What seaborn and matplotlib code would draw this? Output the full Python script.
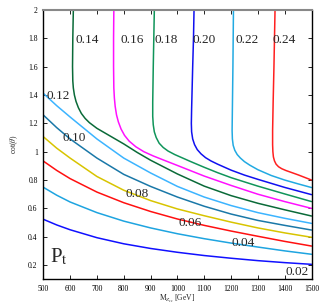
import numpy as np
import pandas as pd
import seaborn as sns
import matplotlib
matplotlib.use('Agg')
import matplotlib.pyplot as plt

# contour levels and their line colours
levels = ['0.02', '0.04', '0.06', '0.08', '0.10', '0.12',
          '0.14', '0.16', '0.18', '0.20', '0.22', '0.24']
colors = ['#1010ff', '#1ea4e0', '#ff1010', '#d8c400', '#1a78a8', '#3cb4ff',
          '#0a6a38', '#ff10ff', '#10955a', '#1010f0', '#22aae2', '#ff2020']

# lower contours, read on a common mass grid (GeV)
m_grid = [500, 550, 600, 700, 800, 900, 1000, 1100, 1200, 1300, 1400, 1500]
c_002 = [0.523, 0.483, 0.449, 0.393, 0.350, 0.317, 0.290, 0.267, 0.248, 0.231, 0.217, 0.205]
c_004 = [0.749, 0.693, 0.645, 0.570, 0.510, 0.462, 0.421, 0.386, 0.355, 0.327, 0.300, 0.276]
c_006 = [0.934, 0.868, 0.810, 0.715, 0.640, 0.578, 0.525, 0.480, 0.440, 0.403, 0.367, 0.334]
c_008 = [1.106, 1.025, 0.955, 0.825, 0.728, 0.655, 0.596, 0.548, 0.503, 0.462, 0.427, 0.396]
c_010 = [1.259, 1.170, 1.090, 0.955, 0.840, 0.755, 0.680, 0.615, 0.560, 0.515, 0.480, 0.447]
c_012 = [1.412, 1.325, 1.245, 1.090, 0.955, 0.850, 0.755, 0.680, 0.620, 0.570, 0.530, 0.494]

# upper contours (vertical branch, then bending to the right)
m_014 = [612, 610, 609, 610, 612, 616, 622, 631, 642, 656, 672, 700, 750, 800, 850, 900,
         1000, 1100, 1200, 1300, 1400, 1500]
c_014 = [2.0, 1.8, 1.6, 1.5, 1.45, 1.40, 1.355, 1.31, 1.27, 1.235, 1.205, 1.165, 1.11, 1.055,
         0.995, 0.94, 0.843, 0.757, 0.69, 0.636, 0.59, 0.546]
m_016 = [763, 762, 762, 763, 765, 768, 773, 780, 790, 803, 820, 845, 875, 910, 950, 1000,
         1100, 1200, 1300, 1400, 1500]
c_016 = [2.0, 1.8, 1.6, 1.45, 1.38, 1.32, 1.26, 1.21, 1.16, 1.115, 1.075, 1.035, 1.0, 0.97,
         0.94, 0.903, 0.828, 0.762, 0.70, 0.648, 0.600]
m_018 = [914, 912, 910, 908, 908, 910, 914, 921, 932, 947, 965, 990, 1020, 1050, 1100, 1150,
         1200, 1300, 1400, 1500]
c_018 = [2.0, 1.8, 1.6, 1.35, 1.25, 1.19, 1.14, 1.10, 1.06, 1.03, 1.005, 0.98, 0.955, 0.93,
         0.89, 0.852, 0.817, 0.757, 0.702, 0.648]
m_020 = [1062, 1060, 1057, 1053, 1052, 1053, 1057, 1064, 1074, 1088, 1105, 1125, 1150, 1200,
         1250, 1300, 1400, 1500]
c_020 = [2.0, 1.8, 1.6, 1.3, 1.2, 1.14, 1.09, 1.05, 1.015, 0.985, 0.958, 0.935, 0.912, 0.87,
         0.835, 0.805, 0.748, 0.697]
m_022 = [1209, 1208, 1207, 1205, 1204, 1205, 1208, 1214, 1223, 1235, 1250, 1270, 1300, 1350,
         1400, 1450, 1500]
c_022 = [2.0, 1.8, 1.6, 1.3, 1.15, 1.09, 1.045, 1.01, 0.98, 0.955, 0.93, 0.905, 0.873, 0.832,
         0.80, 0.773, 0.747]
m_024 = [1364, 1362, 1360, 1357, 1355, 1355, 1356, 1358, 1362, 1368, 1377, 1389, 1405, 1420,
         1451, 1500]
c_024 = [2.0, 1.8, 1.6, 1.35, 1.15, 1.05, 1.0, 0.963, 0.935, 0.912, 0.894, 0.880, 0.867, 0.857,
         0.836, 0.80]

# contour label positions
label_x = [1448, 1246, 1047, 848, 614, 556, 665, 830, 957, 1100, 1261, 1398]
label_y = [0.153, 0.358, 0.499, 0.700, 1.100, 1.392, 1.79, 1.79, 1.79, 1.79, 1.79, 1.79]

x_ticks = [500, 600, 700, 800, 900, 1000, 1100, 1200, 1300, 1400, 1500]
y_ticks = [0.2, 0.4, 0.6, 0.8, 1.0, 1.2, 1.4, 1.6, 1.8, 2.0]
y_ticklabels = ['0.2', '0.4', '0.6', '0.8', '1', '1.2', '1.4', '1.6', '1.8', '2']

curves = [(m_grid, c_002), (m_grid, c_004), (m_grid, c_006), (m_grid, c_008),
          (m_grid, c_010), (m_grid, c_012), (m_014, c_014), (m_016, c_016),
          (m_018, c_018), (m_020, c_020), (m_022, c_022), (m_024, c_024)]

rows = []
for lev, (ms, cs) in zip(levels, curves):
    for i, (m, c) in enumerate(zip(ms, cs)):
        rows.append({'level': lev, 'M': m, 'cot': c, 'order': i})
df = pd.DataFrame(rows)

sns.set_style('ticks')
plt.rcParams['font.family'] = ['Liberation Serif', 'DejaVu Serif']
plt.rcParams['mathtext.fontset'] = 'stix'

fig = plt.figure(figsize=(3.27, 3.05), dpi=100)
ax = fig.add_axes([0.1324, 0.0846, 0.8202, 0.8824])

sns.lineplot(data=df, x='M', y='cot', hue='level', palette=dict(zip(levels, colors)),
             sort=False, estimator=None, legend=False, linewidth=1.1, ax=ax)

for lev, lx, ly in zip(levels, label_x, label_y):
    ax.text(lx, ly, lev, ha='center', va='center', fontsize=9.5)

ax.text(560, 0.255, r'P$_\mathrm{t}$', ha='center', va='center', fontsize=15)

ax.set_xlim(500, 1500)
ax.set_ylim(0.1, 2.0)
ax.set_xticks(x_ticks)
ax.set_yticks(y_ticks)
ax.set_yticklabels(y_ticklabels)
ax.tick_params(direction='in', top=True, right=True, length=3, width=0.6,
               labelsize=5.5, pad=4, colors='black')
for s in ax.spines.values():
    s.set_linewidth(1.0)
    s.set_color('black')
ax.spines['top'].set_color('#888888')
ax.spines['top'].set_linewidth(1.5)

ax.set_xlabel(r'M$_{Z_{ss}}$ [GeV]', fontsize=5.5, labelpad=0.5)
ax.set_ylabel(r'cot($\theta$)', fontsize=5.5, labelpad=6)

fig.savefig('out.png', dpi=100)
